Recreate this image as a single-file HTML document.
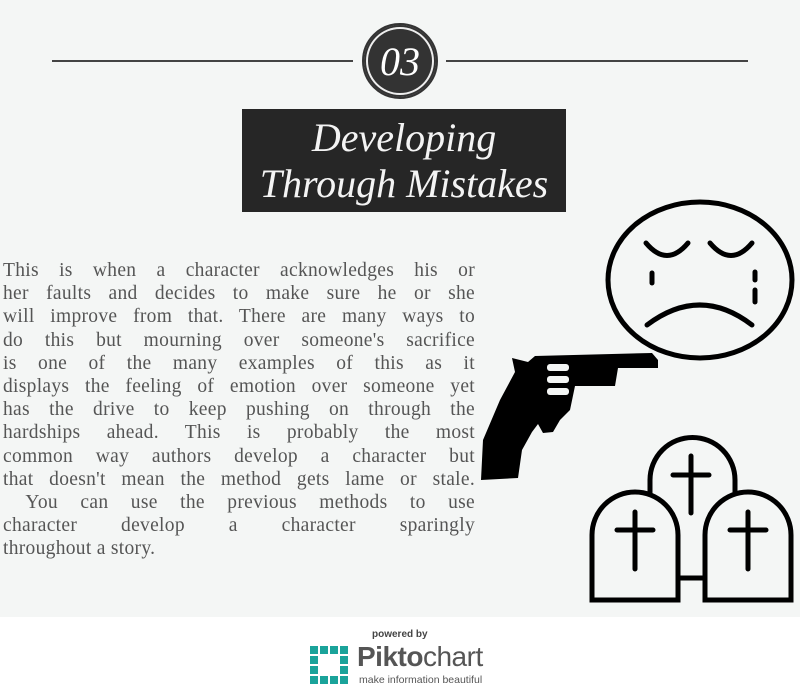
<!DOCTYPE html>
<html><head><meta charset="utf-8"><style>
html,body{margin:0;padding:0}
body{width:800px;height:699px;position:relative;background:#fff;overflow:hidden;font-family:"Liberation Serif",serif}
#main{position:absolute;left:0;top:0;width:800px;height:617px;background:#f4f6f5}
.line{position:absolute;top:60px;height:2px;background:#444}
#num{position:absolute;left:362px;top:23px;width:72px;height:72px;border-radius:50%;background:#333;border:2px solid #333;box-shadow:inset 0 0 0 2px #333,inset 0 0 0 4px #eee;color:#fff;font:italic 40px "Liberation Serif",serif;text-align:center;line-height:74px}
#title{position:absolute;left:242px;top:109px;width:324px;height:103px;background:#262626;color:#f4f4f4;font:italic 40px "Liberation Serif",serif;text-align:center;line-height:46px;padding-top:6px;box-sizing:border-box}
#body{position:absolute;left:3px;top:259px;width:472px;color:#555;font-size:19.5px;line-height:23.2px;letter-spacing:0.3px}
#body div{text-align:justify;text-align-last:justify;height:23.2px}
#body div.last{text-align-last:left}
#footer{position:absolute;top:617px;left:0;width:800px;height:82px;text-align:center}
</style></head><body>
<div id="main">
<div class="line" style="left:52px;width:301px"></div>
<div class="line" style="left:446px;width:302px"></div>
<div id="num">03</div>
<div id="title">Developing<br>Through Mistakes</div>
<div id="body">
<div>This is when a character acknowledges his or</div>
<div>her faults and decides to make sure he or she</div>
<div>will improve from that. There are many ways to</div>
<div>do this but mourning over someone's sacrifice</div>
<div>is one of the many examples of this as it</div>
<div>displays the feeling of emotion over someone yet</div>
<div>has the drive to keep pushing on through the</div>
<div>hardships ahead. This is probably the most</div>
<div>common way authors develop a character but</div>
<div>that doesn't mean the method gets lame or stale.</div>
<div>&nbsp;You can use the previous methods to use</div>
<div>character develop a character sparingly</div>
<div class="last">throughout a story.</div>
</div>
<svg width="800" height="617" style="position:absolute;left:0;top:0">
<g fill="none" stroke="#000" stroke-width="5" stroke-linecap="round">
<ellipse cx="700" cy="280" rx="92" ry="78"/>
<path d="M646 243 Q667 268 688 243"/><path d="M710 243 Q731 268 752 243"/>
<path d="M652 273 v10"/><path d="M755 272 v8"/><path d="M755 290 v12"/>
<path d="M647 325 Q700 285 752 325"/>
</g>
<g fill="#000">
<path d="M512 358 L528 362 L535 356 L652 353 L658 360 L658 368 L618 368 L615 386 L575 386 L570 410 L560 420 L553 432 L543 433 L538 424 L532 432 L522 450 L518 478 L481 480 L483 440 L500 400 L515 372 Z"/>
<rect x="547" y="364" width="22" height="7" rx="3" fill="#f4f6f5"/>
<rect x="547" y="376" width="22" height="7" rx="3" fill="#f4f6f5"/>
<rect x="547" y="388" width="22" height="7" rx="3" fill="#f4f6f5"/>
</g>
<g fill="#f4f6f5" stroke="#000" stroke-width="5">
<path d="M650 600 V480 a42 42 0 0 1 85 0 V600"/>
<path d="M592 600 V535 a43 43 0 0 1 86 0 V600 Z"/>
<path d="M705 600 V535 a43 43 0 0 1 86 0 V600 Z"/>
<path d="M678 578 h27"/>
<g stroke-linecap="round"><path d="M691 456 v57 M673 475 h36"/><path d="M635 512 v57 M617 530 h36"/><path d="M748 512 v57 M730 530 h36"/></g>
</g>
</svg>
</div>
<div id="footer">
<div style="position:absolute;left:372px;top:12px;font:bold 10px 'Liberation Sans',sans-serif;color:#444">powered by</div>
<svg width="40" height="40" style="position:absolute;left:310px;top:29px">
<g fill="#1aa39a"><rect x="0" y="0" width="8" height="8"/><rect x="10" y="0" width="8" height="8"/><rect x="20" y="0" width="8" height="8"/><rect x="30" y="0" width="8" height="8"/><rect x="0" y="10" width="8" height="8"/><rect x="30" y="10" width="8" height="8"/><rect x="0" y="20" width="8" height="8"/><rect x="30" y="20" width="8" height="8"/><rect x="0" y="30" width="8" height="8"/><rect x="10" y="30" width="8" height="8"/><rect x="20" y="30" width="8" height="8"/><rect x="30" y="30" width="8" height="8"/></g></svg>
<div style="position:absolute;left:357px;top:24px;font:bold 28px 'Liberation Sans',sans-serif;color:#555;letter-spacing:-0.5px">Pikto<span style="font-weight:normal">chart</span></div>
<div style="position:absolute;left:359px;top:57px;font:10.5px 'Liberation Sans',sans-serif;color:#555">make information beautiful</div>
</div>
</body></html>
